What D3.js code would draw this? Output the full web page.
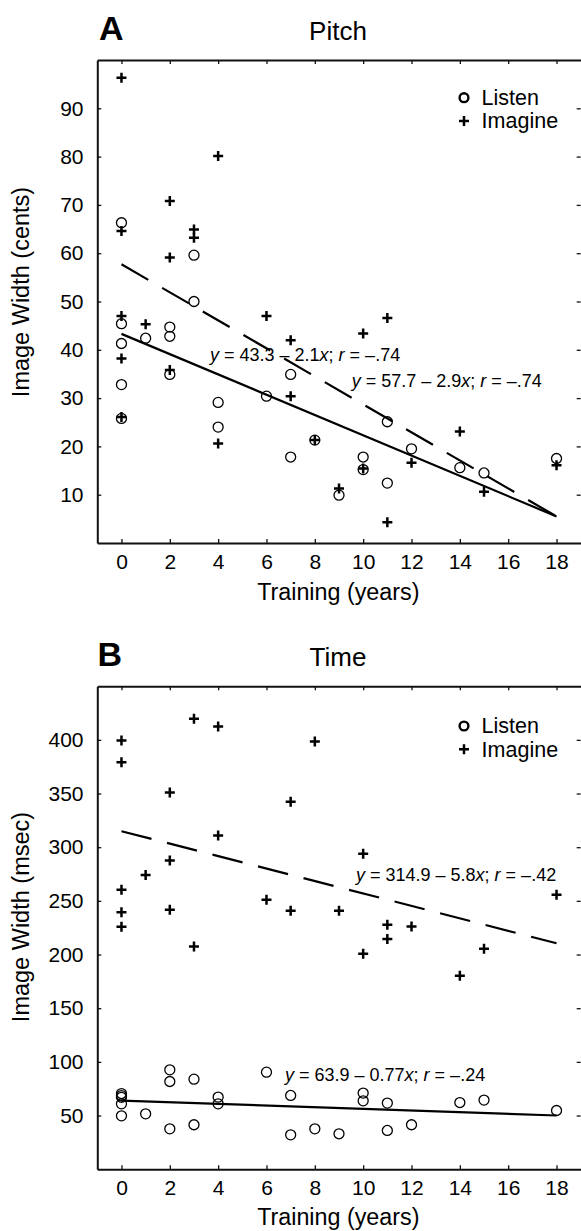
<!DOCTYPE html>
<html><head><meta charset="utf-8">
<script src="https://cdn.jsdelivr.net/npm/d3@7"></script>
<style>
body{margin:0;background:#fff}
svg{display:block;background:#fff}
text{font-family:"Liberation Sans",Arial,Helvetica,sans-serif;fill:#000}
</style>
</head><body>
<svg id="chart" width="581" height="1231"></svg>
<script>
// ---------- data ----------
const xTicks = [0, 2, 4, 6, 8, 10, 12, 14, 16, 18];
const pitchYTicks = [10, 20, 30, 40, 50, 60, 70, 80, 90];
const timeYTicks = [50, 100, 150, 200, 250, 300, 350, 400];
const seriesNames = ["Listen", "Imagine"];
const trainingYears = [0,0,0,0,0,1,2,2,2,3,3,4,4,6,7,7,8,9,10,10,11,11,12,14,15,18];
const pitchListen  = [66.3,45.4,41.3,32.8,25.8,42.4,44.7,42.8,34.9,59.6,50.0,29.1,24.0,30.4,34.9,17.8,21.3,9.9,17.8,15.2,25.1,12.4,19.5,15.6,14.5,17.5];
const pitchImagine = [96.3,64.6,47.0,38.2,26.1,45.3,70.8,59.1,35.8,64.9,63.2,80.1,20.6,47.0,42.0,30.4,21.3,11.3,43.4,15.4,46.6,4.3,16.6,23.1,10.6,16.1];
const timeListen   = [70.5,68.5,67.0,60.9,49.7,51.6,92.6,81.7,37.6,83.9,41.4,67.2,60.9,90.4,68.7,32.0,37.6,33.0,70.9,63.7,61.6,36.1,41.4,62.1,64.4,54.7];
const timeImagine  = [399.4,379.2,260.3,239.5,226.0,274.0,350.9,287.6,241.7,419.6,207.5,412.4,310.9,251.0,342.3,240.7,398.5,240.7,293.8,200.7,227.7,214.4,226.1,180.2,205.3,255.6];
// regression fits: [Listen, Imagine]
const pitchFitIntercept = [43.3, 57.7];
const pitchFitSlope = [2.1, 2.9];
const pitchFitR = [".74", ".74"];
const timeFitIntercept = [63.9, 314.9];
const timeFitSlope = [0.77, 5.8];
const timeFitR = [".24", ".42"];
const fitRange = [0, 18];

// ---------- drawing ----------
const svg = d3.select("#chart");
const FONT_TICK = 21;

function panel(o) {
  const g = svg.append("g");
  const x = d3.scaleLinear([-1, 19], [97.3, 580.7]);
  const y = d3.scaleLinear(o.yDomain, [o.bottom, o.bottom - 483]);
  const top = o.bottom - 483;

  // axes (inward ticks)
  const styleAxis = (sel, showDomain) => {
    sel.selectAll(".tick line").attr("stroke", "#111").attr("stroke-width", 1.3);
    sel.select(".domain").attr("stroke", showDomain ? "#111" : "none").attr("stroke-width", 2);
    sel.selectAll("text").attr("font-size", FONT_TICK).attr("font-family", null).attr("fill", "#000");
  };
  g.append("g").attr("transform", `translate(0,${o.bottom})`)
    .call(d3.axisBottom(x).tickValues(xTicks).tickSize(-4).tickSizeOuter(0).tickPadding(11))
    .call(s => styleAxis(s, true));
  g.append("g").attr("transform", `translate(0,${top})`)
    .call(d3.axisTop(x).tickValues(xTicks).tickSize(-4).tickSizeOuter(0).tickFormat(""))
    .call(s => styleAxis(s, true));
  g.append("g").attr("transform", `translate(${x(-1)},0)`)
    .call(d3.axisLeft(y).tickValues(o.yTicks).tickSize(-4).tickSizeOuter(0).tickPadding(13.8))
    .call(s => styleAxis(s, true));
  g.append("g").attr("transform", `translate(${x(19)},0)`)
    .call(d3.axisRight(y).tickValues(o.yTicks).tickSize(-4).tickSizeOuter(0).tickFormat(""))
    .call(s => styleAxis(s, false));

  // fit lines
  o.fitIntercept.forEach((a, i) => {
    const b = -o.fitSlope[i];
    g.append("line")
      .attr("x1", x(fitRange[0])).attr("y1", y(a + b * fitRange[0]))
      .attr("x2", x(fitRange[1])).attr("y2", y(a + b * fitRange[1]))
      .attr("stroke", "#000").attr("stroke-width", 2.2)
      .attr("stroke-dasharray", i === 1 ? "31,16" : null);
  });

  // markers
  g.append("g").selectAll("path")
    .data(d3.zip(trainingYears, o.imagine)).join("path")
    .attr("transform", d => `translate(${x(d[0])},${y(d[1])})`)
    .attr("d", "M-5,0H5M0,-5V5")
    .attr("stroke", "#000").attr("stroke-width", 2.5).attr("fill", "none");
  g.append("g").selectAll("circle")
    .data(d3.zip(trainingYears, o.listen)).join("circle")
    .attr("cx", d => x(d[0])).attr("cy", d => y(d[1])).attr("r", 5)
    .attr("fill", "none").attr("stroke", "#000").attr("stroke-width", 1.3);

  // equations
  o.fitIntercept.forEach((a, i) => {
    const t = g.append("text").attr("x", o.eqPos[i][0]).attr("y", o.eqPos[i][1]).attr("font-size", 18);
    t.append("tspan").attr("font-style", "italic").text("y");
    t.append("tspan").text(` = ${a} – ${o.fitSlope[i]}`);
    t.append("tspan").attr("font-style", "italic").text("x");
    t.append("tspan").text("; ");
    t.append("tspan").attr("font-style", "italic").text("r");
    t.append("tspan").text(` = –${o.fitR[i]}`);
  });

  // legend
  const lg = g.append("g");
  lg.append("circle").attr("cx", 464).attr("cy", o.legendY[0]).attr("r", 4.4)
    .attr("fill", "none").attr("stroke", "#000").attr("stroke-width", 2.4);
  lg.append("path").attr("transform", `translate(464,${o.legendY[1]})`)
    .attr("d", "M-5,0H5M0,-5V5").attr("stroke", "#000").attr("stroke-width", 2.5);
  seriesNames.forEach((n, i) => {
    lg.append("text").attr("x", 481.6).attr("y", o.legendY[i] + 7.3).attr("font-size", 21.5).text(n);
  });

  // titles & labels
  g.append("text").attr("x", o.letterX).attr("y", o.titleY).attr("font-size", 34).attr("font-weight", "bold").text(o.letter);
  g.append("text").attr("x", 338).attr("y", o.titleY).attr("font-size", 26).attr("text-anchor", "middle").text(o.title);
  g.append("text").attr("x", 338.3).attr("y", o.xLabelY).attr("font-size", 23.3).attr("text-anchor", "middle").text("Training (years)");
  g.append("text").attr("transform", `translate(28.5,${o.yLabelCenter}) rotate(-90)`)
    .attr("font-size", 23.5).attr("text-anchor", "middle").text(o.yLabel);
}

panel({
  letter: "A", letterX: 99, title: "Pitch", titleY: 40,
  bottom: 543, yDomain: [0, 100], yTicks: pitchYTicks,
  listen: pitchListen, imagine: pitchImagine,
  fitIntercept: pitchFitIntercept, fitSlope: pitchFitSlope, fitR: pitchFitR,
  eqPos: [[210, 361], [351.7, 387.3]],
  legendY: [97.7, 121], xLabelY: 600, yLabelCenter: 292,
  yLabel: "Image Width (cents)"
});
panel({
  letter: "B", letterX: 97.5, title: "Time", titleY: 666,
  bottom: 1169.2, yDomain: [0, 450], yTicks: timeYTicks,
  listen: timeListen, imagine: timeImagine,
  fitIntercept: timeFitIntercept, fitSlope: timeFitSlope, fitR: timeFitR,
  eqPos: [[285, 1080.7], [356, 880.7]],
  legendY: [726, 749.3], xLabelY: 1225, yLabelCenter: 917,
  yLabel: "Image Width (msec)"
});
</script>
</body></html>
